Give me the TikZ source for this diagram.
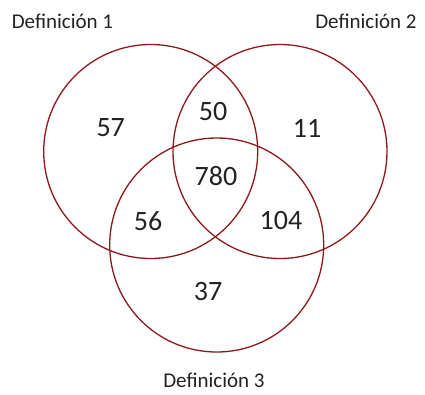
\documentclass[tikz,border=0pt]{standalone}
\usepackage{fontspec}
\setmainfont{Carlito}
\definecolor{ring}{RGB}{139,26,31}
\definecolor{ink}{RGB}{34,34,34}
\begin{document}
\begin{tikzpicture}[x=1pt,y=-1pt,
  setcircle/.style={circle,draw=ring,line width=1.3pt,minimum size=214pt,inner sep=0pt},
  setlabel/.style={font=\fontsize{21}{25}\selectfont,text=ink,inner sep=0pt},
  count/.style={font=\fontsize{28}{33}\selectfont,text=ink,inner sep=0pt}]
\useasboundingbox (0,0) rectangle (425,394);
\node[setcircle] (c1) at (150.7,151.5) {};
\node[setcircle] (c2) at (280,151.5) {};
\node[setcircle] (c3) at (216.7,245) {};
\node[setlabel] (l1) at (62.5,21.7) {Definición 1};
\node[setlabel] (l2) at (366,21.7) {Definición 2};
\node[setlabel] (l3) at (214,380) {Definición 3};
\node[count] (n57) at (110.7,128) {57};
\node[count] (n50) at (213,112) {50};
\node[count] (n11) at (307,128) {11};
\node[count] (n780) at (216,176) {780};
\node[count] (n56) at (148,220.7) {56};
\node[count] (n104) at (281,220.7) {104};
\node[count] (n37) at (208,291.7) {37};
\end{tikzpicture}
\end{document}
